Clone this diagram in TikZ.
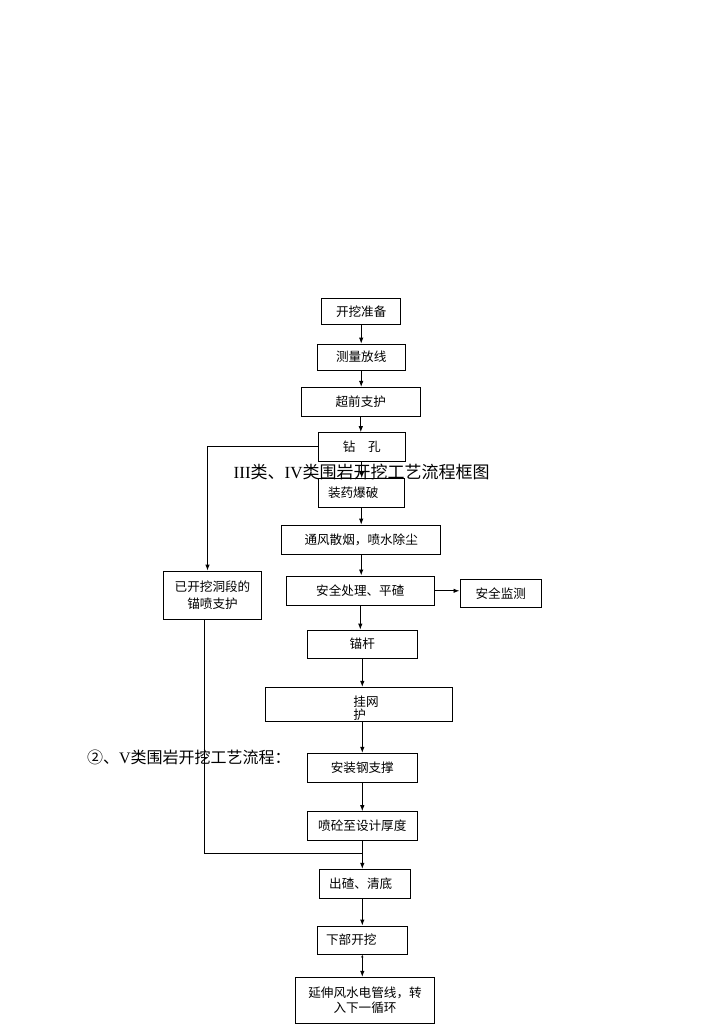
\documentclass[tikz,border=0pt]{standalone}
\usepackage{fontspec}
\setmainfont{Liberation Serif}
\newfontfamily\cjk{Noto Sans CJK SC}
\usetikzlibrary{arrows.meta}

\begin{document}
\begin{tikzpicture}
            [x=1pt,y=-1pt,line width=.9pt,>={Latex[length=6pt,width=4.5pt]},
            every node/.style={inner sep=0pt,font=\cjk\fontsize{12.6}{15}\selectfont},
            box/.style={draw,align=center}]
            \useasboundingbox (0,0) rectangle (724,1024);
            \node[box,minimum width=79pt,minimum height=26pt] (prep) at (361.2, 311.3) {开挖准备};
            \node[box,minimum width=87.7pt,minimum height=26.3pt] (survey) at (361.2, 357.2) {测量放线};
            \node[box,minimum width=119.7pt,minimum height=28.7pt] (advance) at (360.8, 401.7) {超前支护};
            \node[box,minimum width=86.7pt,minimum height=28.3pt] (drill) at (361.7, 446.8) {钻　孔};
            \node[box,minimum width=85.7pt,minimum height=28.3pt] (blast) at (361.2, 492.8) {装药爆破\kern16pt};
            \node[box,minimum width=159pt,minimum height=29.3pt] (vent) at (361.2, 539.7) {通风散烟，喷水除尘};
            \node[box,minimum width=98.4pt,minimum height=48.3pt,font=\cjk\fontsize{12.6}{17}\selectfont] (done) at (212.5, 595.2) {已开挖洞段的\\锚喷支护};
            \node[box,minimum width=147.3pt,minimum height=29.7pt] (safety) at (360.3, 590.8) {安全处理、平碴};
            \node[box,minimum width=81.7pt,minimum height=28.3pt] (monitor) at (500.8, 593.5) {安全监测};
            \node[box,minimum width=110pt,minimum height=28.3pt] (bolt) at (362.3, 644.2) {锚杆};
            \node[box,minimum width=187.7pt,minimum height=33.7pt] (mesh) at (358.8, 704.2) {};
            \node[align=left,font=\cjk\fontsize{12.6}{13.3}\selectfont] (meshtext) at (366, 708.3) {挂网\\护};
            \node[box,minimum width=110pt,minimum height=29pt] (steel) at (362.3, 767.8) {安装钢支撑};
            \node[box,minimum width=110pt,minimum height=28.3pt] (shot) at (362.3, 825.8) {喷砼至设计厚度};
            \node[box,minimum width=90.7pt,minimum height=29pt] (muck) at (364.7, 883.8) {出碴、清底\kern8pt};
            \node[box,minimum width=90pt,minimum height=28pt] (lower) at (362.3, 940) {下部开挖\kern22pt};
            \node[box,minimum width=138.6pt,minimum height=46pt] (extend) at (365, 1000.3) {延伸风水电管线，转\\入下一循环};
            \node[font=\fontsize{17}{20}\selectfont] (title) at (361.7, 471.7) {III\cjk 类、\rmfamily IV\cjk 类围岩开挖工艺流程框图};
            \node[anchor=west,font=\cjk\fontsize{16}{19}\selectfont] (title5) at (86.7, 757.7) {②、\rmfamily V\cjk 类围岩开挖工艺流程：};
            \coordinate (join) at (362.3, 853.3);

            \draw[->] (prep.south) -- (prep.south |- survey.north);
            \draw[->] (survey.south) -- (survey.south |- advance.north);
            \draw[->] (advance.south) -- (advance.south |- drill.north);
            \draw[->] (drill.south) -- (drill.south |- blast.north);
            \draw[->] (blast.south) -- (blast.south |- vent.north);
            \draw[->] (vent.south) -- (vent.south |- safety.north);
            \draw[->] (safety.east) -- (safety.east -| monitor.west);
            \draw[->] (safety.south) -- (safety.south |- bolt.north);
            \draw[->] (bolt.south) -- (bolt.south |- mesh.north);
            \draw[->] (mesh.south -| steel.north) -- (steel.north);
            \draw[->] (steel.south) -- (steel.south |- shot.north);
            \draw[->] (shot.south) -- (shot.south |- muck.north);
            \draw[->] (muck.south -| lower.north) -- (lower.north);
            \draw[{Latex[length=3pt,width=2.5pt]}->] (lower.south) -- (lower.south |- extend.north);
            \draw[->] (drill.west) -| ([xshift=-5pt]done.north);
            \draw ([xshift=-8.5pt]done.south) |- (join);

        \end{tikzpicture}
\end{document}
